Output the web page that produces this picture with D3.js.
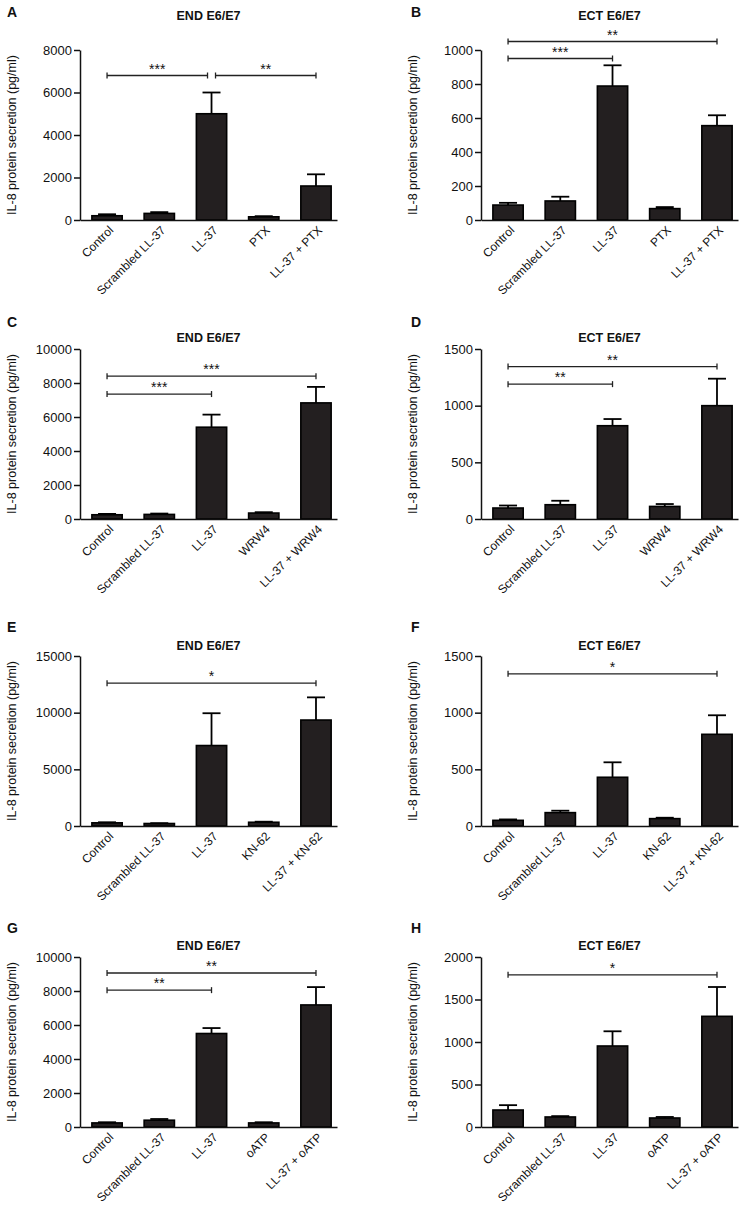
<!DOCTYPE html>
<html><head><meta charset="utf-8">
<script src="https://cdn.jsdelivr.net/npm/d3@7"></script>
<style>
html,body{margin:0;padding:0;background:#fff;}
text{font-family:"Liberation Sans",Arial,sans-serif;fill:#111;}
</style></head>
<body>
<svg id="chart" width="742" height="1209"></svg>
<script>
// ---- data ----
const panelLetters = ["A","B","C","D","E","F","G","H"];
const panelTitles = ["END E6/E7","ECT E6/E7","END E6/E7","ECT E6/E7","END E6/E7","ECT E6/E7","END E6/E7","ECT E6/E7"];
const baseCategories = ["Control","Scrambled LL-37","LL-37"];
const treatmentCategories = [
  ["PTX","LL-37 + PTX"],
  ["WRW4","LL-37 + WRW4"],
  ["KN-62","LL-37 + KN-62"],
  ["oATP","LL-37 + oATP"]
];
const yLabel = "IL-8 protein secretion (pg/ml)";

const valuesA = [200, 310, 5000, 150, 1600];
const errorsA = [70, 60, 1000, 30, 550];
const valuesB = [88, 112, 788, 67, 555];
const errorsB = [13, 25, 122, 9, 61];
const valuesC = [250, 270, 5400, 350, 6830];
const errorsC = [50, 50, 740, 50, 940];
const valuesD = [97, 126, 823, 111, 1000];
const errorsD = [22, 35, 59, 21, 238];
const valuesE = [280, 220, 7100, 330, 9350];
const errorsE = [50, 30, 2850, 50, 2000];
const valuesF = [50, 118, 430, 65, 809];
const errorsF = [8, 17, 132, 8, 168];
const valuesG = [240, 400, 5500, 240, 7180];
const errorsG = [40, 70, 320, 40, 1050];
const valuesH = [200, 118, 953, 106, 1302];
const errorsH = [57, 10, 173, 12, 345];

const ticksA = [0, 2000, 4000, 6000, 8000];
const ticksB = [0, 200, 400, 600, 800, 1000];
const ticksC = [0, 2000, 4000, 6000, 8000, 10000];
const ticksD = [0, 500, 1000, 1500];
const ticksE = [0, 5000, 10000, 15000];
const ticksF = [0, 500, 1000, 1500];
const ticksG = [0, 2000, 4000, 6000, 8000, 10000];
const ticksH = [0, 500, 1000, 1500, 2000];

// significance brackets: [fromIndex, toIndex, label, level (data units)]
const bracketsA = [[0, 2, "***", 6800], [2, 4, "**", 6800]];
const bracketsB = [[0, 2, "***", 950], [0, 4, "**", 1050]];
const bracketsC = [[0, 2, "***", 7350], [0, 4, "***", 8400]];
const bracketsD = [[0, 2, "**", 1190], [0, 4, "**", 1345]];
const bracketsE = [[0, 4, "*", 12600]];
const bracketsF = [[0, 4, "*", 1343]];
const bracketsG = [[0, 2, "**", 8050], [0, 4, "**", 9060]];
const bracketsH = [[0, 4, "*", 1790]];

const allValues = [valuesA, valuesB, valuesC, valuesD, valuesE, valuesF, valuesG, valuesH];
const allErrors = [errorsA, errorsB, errorsC, errorsD, errorsE, errorsF, errorsG, errorsH];
const allTicks = [ticksA, ticksB, ticksC, ticksD, ticksE, ticksF, ticksG, ticksH];
const allBrackets = [bracketsA, bracketsB, bracketsC, bracketsD, bracketsE, bracketsF, bracketsG, bracketsH];

// ---- layout ----
const colAxisX = [80, 481];
const rowTops = [50, 349, 656, 957];
const plotH = 170, plotW = 257;
const titleY = [20, 342, 650, 950];
const letterY = [17, 327, 632, 933];
const letterX = [7, 411];
const FONT = "'Liberation Sans', Arial, sans-serif";

const svg = d3.select("#chart");

allValues.forEach((vals, i) => {
  const col = i % 2, row = Math.floor(i / 2);
  const ax = colAxisX[col], top = rowTops[row], bottom = top + plotH;
  const cats = baseCategories.concat(treatmentCategories[row]);
  const ticks = allTicks[i];
  const errs = allErrors[i];
  const g = svg.append("g");

  const y = d3.scaleLinear().domain([0, d3.max(ticks)]).range([bottom, top]);
  const x = d3.scaleBand().domain(cats).range([ax, ax + plotW])
    .paddingInner(0.42).paddingOuter(0.17).align(0.67);
  const cx = c => x(c) + x.bandwidth() / 2;

  // panel letter & title
  g.append("text").attr("x", letterX[col]).attr("y", letterY[row])
    .style("font-weight", "bold").style("font-size", "14px").text(panelLetters[i]);
  g.append("text").attr("x", ax + plotW / 2).attr("y", titleY[row])
    .attr("text-anchor", "middle").style("font-weight", "bold").style("font-size", "12.5px")
    .text(panelTitles[i]);

  // y label
  g.append("text")
    .attr("transform", `translate(${ax - 64},${(top + bottom) / 2}) rotate(-90)`)
    .attr("text-anchor", "middle").style("font-size", "12.5px").text(yLabel);

  // bars
  g.selectAll("rect.bar").data(vals).join("rect").attr("class", "bar")
    .attr("x", (d, j) => x(cats[j]))
    .attr("width", x.bandwidth())
    .attr("y", d => y(d))
    .attr("height", d => bottom - y(d))
    .attr("fill", "#231f20").attr("stroke", "#000").attr("stroke-width", 1.6);

  // error bars
  const eg = g.append("g").attr("stroke", "#000").attr("stroke-width", 1.8);
  vals.forEach((v, j) => {
    const c = cx(cats[j]);
    eg.append("line").attr("x1", c).attr("x2", c).attr("y1", y(v)).attr("y2", y(v + errs[j]));
    eg.append("line").attr("x1", c - 9).attr("x2", c + 9).attr("y1", y(v + errs[j])).attr("y2", y(v + errs[j]));
  });

  // axes
  const yAxis = g.append("g").attr("transform", `translate(${ax},0)`)
    .call(d3.axisLeft(y).tickValues(ticks).tickSize(6).tickPadding(2).tickSizeOuter(0).tickFormat(d3.format("d")));
  yAxis.selectAll("path,line").attr("stroke", "#111").attr("stroke-width", 1.5);
  yAxis.selectAll("text").style("font-size", "13px").style("font-family", FONT).attr("fill", "#111");

  const xAxis = g.append("g").attr("transform", `translate(0,${bottom})`)
    .call(d3.axisBottom(x).tickSize(0).tickSizeOuter(0));
  xAxis.select(".domain").attr("stroke", "#111").attr("stroke-width", 1.5);
  xAxis.selectAll("text").attr("x", 0).attr("y", 0).attr("dy", "0.35em")
    .attr("text-anchor", "end").attr("transform", "translate(4,8) rotate(-45)")
    .style("font-size", "12px").style("font-family", FONT).attr("fill", "#111");

  // significance brackets
  const brs = allBrackets[i];
  brs.forEach((b, k) => {
    const [f, t, lab, lvl] = b;
    let x1 = cx(cats[f]), x2 = cx(cats[t]);
    brs.forEach((o, m) => {
      if (m === k || o[3] !== lvl) return;
      if (o[0] === t || o[1] === t) x2 -= 4;
      if (o[0] === f || o[1] === f) x1 += 4;
    });
    const yy = y(lvl);
    const bg = g.append("g").attr("stroke", "#222").attr("stroke-width", 1.3);
    bg.append("line").attr("x1", x1).attr("x2", x2).attr("y1", yy).attr("y2", yy);
    bg.append("line").attr("x1", x1).attr("x2", x1).attr("y1", yy - 3).attr("y2", yy + 3);
    bg.append("line").attr("x1", x2).attr("x2", x2).attr("y1", yy - 3).attr("y2", yy + 3);
    g.append("text").attr("x", (x1 + x2) / 2).attr("y", yy - 2)
      .attr("text-anchor", "middle").style("font-size", "14px").text(lab);
  });
});
</script>
</body></html>
